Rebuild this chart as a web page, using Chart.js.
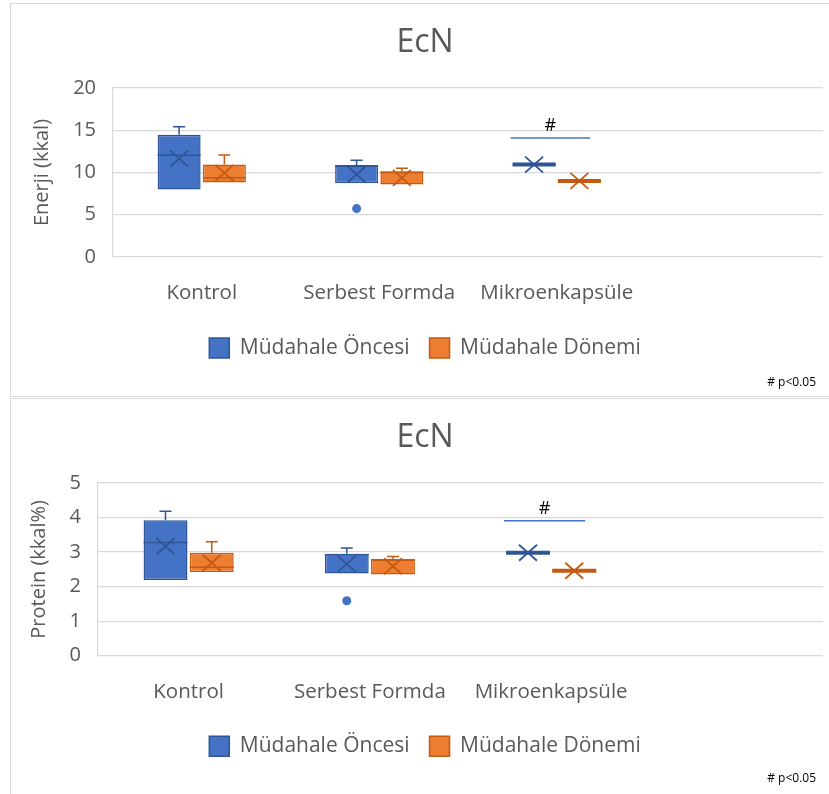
<!DOCTYPE html>
<html>
<head>
<meta charset="utf-8">
<script src="https://cdn.jsdelivr.net/npm/chart.js@4.4.0/dist/chart.umd.min.js"></script>
<style>
html,body{margin:0;padding:0;background:#fff;overflow:hidden;width:829px;height:794px}
.panel{position:absolute;left:10px;width:828px;border:1px solid #d9d9d9;background:#fff}
#p1{top:3px;height:392px}
#p2{top:398px;height:395px}
canvas{display:block}
</style>
</head>
<body>
<div class="panel" id="p1"><canvas id="cEnerji" width="828" height="392"></canvas></div>
<div class="panel" id="p2"><canvas id="cProtein" width="828" height="395"></canvas></div>
<script>
// categories (the 4th slot is empty, as in the original)
var categories = ['Kontrol', 'Serbest Formda', 'Mikroenkapsüle', ''];
var seriesNames = ['Müdahale Öncesi', 'Müdahale Dönemi'];

// Enerji (kkal)
var enerjiOncesiMin    = [8.0, 8.74, 10.94];
var enerjiOncesiQ1     = [8.0, 8.74, 10.94];
var enerjiOncesiMedian = [12.04, 10.8, 10.94];
var enerjiOncesiQ3     = [14.47, 10.82, 10.94];
var enerjiOncesiMax    = [15.4, 11.45, 10.94];
var enerjiOncesiMean   = [11.65, 9.76, 10.94];
var enerjiOncesiOut    = [[], [5.73], []];

var enerjiDonemiMin    = [8.82, 8.59, 9.0];
var enerjiDonemiQ1     = [8.82, 8.59, 9.0];
var enerjiDonemiMedian = [9.37, 10.0, 9.0];
var enerjiDonemiQ3     = [10.94, 10.16, 9.0];
var enerjiDonemiMax    = [12.08, 10.5, 9.0];
var enerjiDonemiMean   = [9.96, 9.37, 9.0];
var enerjiDonemiOut    = [[], [], []];

var enerjiTicks = [0, 5, 10, 15, 20];
var enerjiSig = 14.08;

// Protein (kkal%)
var proteinOncesiMin    = [2.19, 2.38, 2.98];
var proteinOncesiQ1     = [2.19, 2.38, 2.98];
var proteinOncesiMedian = [3.28, 2.92, 2.98];
var proteinOncesiQ3     = [3.92, 2.95, 2.98];
var proteinOncesiMax    = [4.18, 3.12, 2.98];
var proteinOncesiMean   = [3.17, 2.66, 2.98];
var proteinOncesiOut    = [[], [1.59], []];

var proteinDonemiMin    = [2.42, 2.35, 2.46];
var proteinDonemiQ1     = [2.42, 2.35, 2.46];
var proteinDonemiMedian = [2.56, 2.76, 2.46];
var proteinDonemiQ3     = [2.98, 2.8, 2.46];
var proteinDonemiMax    = [3.30, 2.87, 2.46];
var proteinDonemiMean   = [2.69, 2.59, 2.46];
var proteinDonemiOut    = [[], [], []];

var proteinTicks = [0, 1, 2, 3, 4, 5];
var proteinSig = 3.91;

var sigCategory = 2;
var gris = '#595959';

Chart.defaults.font.family = "'Open Sans', sans-serif";
Chart.defaults.color = gris;

// draws whiskers, medians, means, outliers, the # mark and the footnote
var boxPlugin = {
  id: 'boxParts',
  afterDatasetsDraw: function(chart, args, opts){
    var ctx = chart.ctx, y = chart.scales.y;
    opts.series.forEach(function(s, di){
      var meta = chart.getDatasetMeta(di);
      meta.data.forEach(function(bar, i){
        if (s.q1[i] == null) return;
        var x = bar.x, hw = bar.width / 2;
        ctx.save();
        ctx.strokeStyle = s.line;
        ctx.lineCap = 'butt';
        var yq1 = y.getPixelForValue(s.q1[i]), yq3 = y.getPixelForValue(s.q3[i]);
        if (Math.abs(yq1 - yq3) < 1) {
          ctx.lineWidth = 4;
          ctx.beginPath(); ctx.moveTo(x - hw, yq1); ctx.lineTo(x + hw, yq1); ctx.stroke();
        }
        ctx.lineWidth = 1.5;
        // ust bigote
        if (s.max[i] > s.q3[i]) {
          var ym = y.getPixelForValue(s.max[i]);
          ctx.beginPath(); ctx.moveTo(x, yq3); ctx.lineTo(x, ym);
          ctx.moveTo(x - 6, ym); ctx.lineTo(x + 6, ym); ctx.stroke();
        }
        if (s.min[i] < s.q1[i]) {
          var yn = y.getPixelForValue(s.min[i]);
          ctx.beginPath(); ctx.moveTo(x, yq1); ctx.lineTo(x, yn);
          ctx.moveTo(x - 6, yn); ctx.lineTo(x + 6, yn); ctx.stroke();
        }
        // mediana
        var ymed = y.getPixelForValue(s.median[i]);
        ctx.beginPath(); ctx.moveTo(x - hw, ymed); ctx.lineTo(x + hw, ymed); ctx.stroke();
        // media (X)
        var yme = y.getPixelForValue(s.mean[i]);
        ctx.lineWidth = 1.8;
        ctx.beginPath();
        ctx.moveTo(x - 9, yme - 8); ctx.lineTo(x + 9, yme + 8);
        ctx.moveTo(x - 9, yme + 8); ctx.lineTo(x + 9, yme - 8);
        ctx.stroke();
        // atipicos
        ctx.fillStyle = s.fill;
        s.out[i].forEach(function(v){
          ctx.beginPath(); ctx.arc(x, y.getPixelForValue(v), 4.5, 0, Math.PI * 2); ctx.fill();
        });
        ctx.restore();
      });
    });
    // linea de significancia
    var b0 = chart.getDatasetMeta(0).data[sigCategory];
    var b1 = chart.getDatasetMeta(1).data[sigCategory];
    var ys = y.getPixelForValue(opts.sig);
    var x0 = b0.x - b0.width / 2 - 2, x1 = b1.x + b1.width * 0.25;
    ctx.save();
    ctx.strokeStyle = '#4472C4'; ctx.lineWidth = 1.5;
    ctx.beginPath(); ctx.moveTo(x0, ys); ctx.lineTo(x1, ys); ctx.stroke();
    ctx.fillStyle = '#000';
    ctx.font = "18px 'Open Sans', sans-serif";
    ctx.textAlign = 'center'; ctx.textBaseline = 'middle';
    ctx.fillText('#', (x0 + x1) / 2, ys - 12);
    ctx.font = "12px 'Open Sans', sans-serif";
    ctx.textAlign = 'right';
    ctx.fillText('# p<0.05', 805, opts.noteY);
    ctx.restore();
  }
};

function makeChart(id, cfg){
  return new Chart(document.getElementById(id), {
    type: 'bar',
    data: {
      labels: categories,
      datasets: cfg.series.map(function(s){
        return {
          label: s.name,
          data: s.q1.map(function(v, i){ return [v, s.q3[i]]; }),
          backgroundColor: s.fill,
          borderColor: s.line,
          borderWidth: 1.5,
          borderSkipped: false,
          categoryPercentage: 0.51,
          barPercentage: 0.95
        };
      })
    },
    options: {
      responsive: false,
      animation: false,
      devicePixelRatio: 1,
      layout: { padding: { left: 16, right: 16, top: 0, bottom: cfg.padBottom } },
      scales: {
        x: {
          grid: { display: false, drawTicks: false },
          border: { display: false },
          ticks: { padding: 24, font: { size: 20.5 }, color: gris },
          afterFit: function(s){ s.height = cfg.xHeight; }
        },
        y: {
          min: 0,
          max: cfg.ticks[cfg.ticks.length - 1],
          afterBuildTicks: function(s){ s.ticks = cfg.ticks.map(function(v){ return { value: v }; }); },
          ticks: { padding: 17, font: { size: 20 }, color: gris },
          grid: { color: '#d9d9d9', drawTicks: false, lineWidth: 1.2 },
          border: { color: '#d9d9d9', width: 1.2 },
          title: { display: true, text: cfg.yTitle, font: { size: 20 }, color: gris, padding: { top: cfg.yTitlePad, bottom: 0 } },
          afterFit: function(s){ s.width = cfg.yWidth; }
        }
      },
      plugins: {
        title: { display: true, text: 'EcN', font: { size: 32, weight: 'normal' }, color: gris, padding: { top: 20, bottom: 25.6 } },
        legend: {
          position: 'bottom',
          labels: { boxWidth: 20, boxHeight: 20, padding: 20, font: { size: 21 }, color: gris }
        },
        tooltip: { enabled: false },
        boxParts: { series: cfg.series, sig: cfg.sig, noteY: cfg.noteY }
      }
    },
    plugins: [boxPlugin]
  });
}

makeChart('cEnerji', {
  yTitle: 'Enerji (kkal)', ticks: enerjiTicks, sig: enerjiSig,
  yWidth: 86, yTitlePad: 3, xHeight: 60.5, padBottom: 27.5, noteY: 378.3,
  series: [
    { name: seriesNames[0], fill: '#4472C4', line: '#2F5597', min: enerjiOncesiMin, q1: enerjiOncesiQ1, median: enerjiOncesiMedian, q3: enerjiOncesiQ3, max: enerjiOncesiMax, mean: enerjiOncesiMean, out: enerjiOncesiOut },
    { name: seriesNames[1], fill: '#ED7D31', line: '#C55A11', min: enerjiDonemiMin, q1: enerjiDonemiQ1, median: enerjiDonemiMedian, q3: enerjiDonemiQ3, max: enerjiDonemiMax, mean: enerjiDonemiMean, out: enerjiDonemiOut }
  ]
});

makeChart('cProtein', {
  yTitle: 'Protein (kkal%)', ticks: proteinTicks, sig: proteinSig,
  yWidth: 71, yTitlePad: 0, xHeight: 60, padBottom: 27.3, noteY: 379.8,
  series: [
    { name: seriesNames[0], fill: '#4472C4', line: '#2F5597', min: proteinOncesiMin, q1: proteinOncesiQ1, median: proteinOncesiMedian, q3: proteinOncesiQ3, max: proteinOncesiMax, mean: proteinOncesiMean, out: proteinOncesiOut },
    { name: seriesNames[1], fill: '#ED7D31', line: '#C55A11', min: proteinDonemiMin, q1: proteinDonemiQ1, median: proteinDonemiMedian, q3: proteinDonemiQ3, max: proteinDonemiMax, mean: proteinDonemiMean, out: proteinDonemiOut }
  ]
});
</script>
</body>
</html>
